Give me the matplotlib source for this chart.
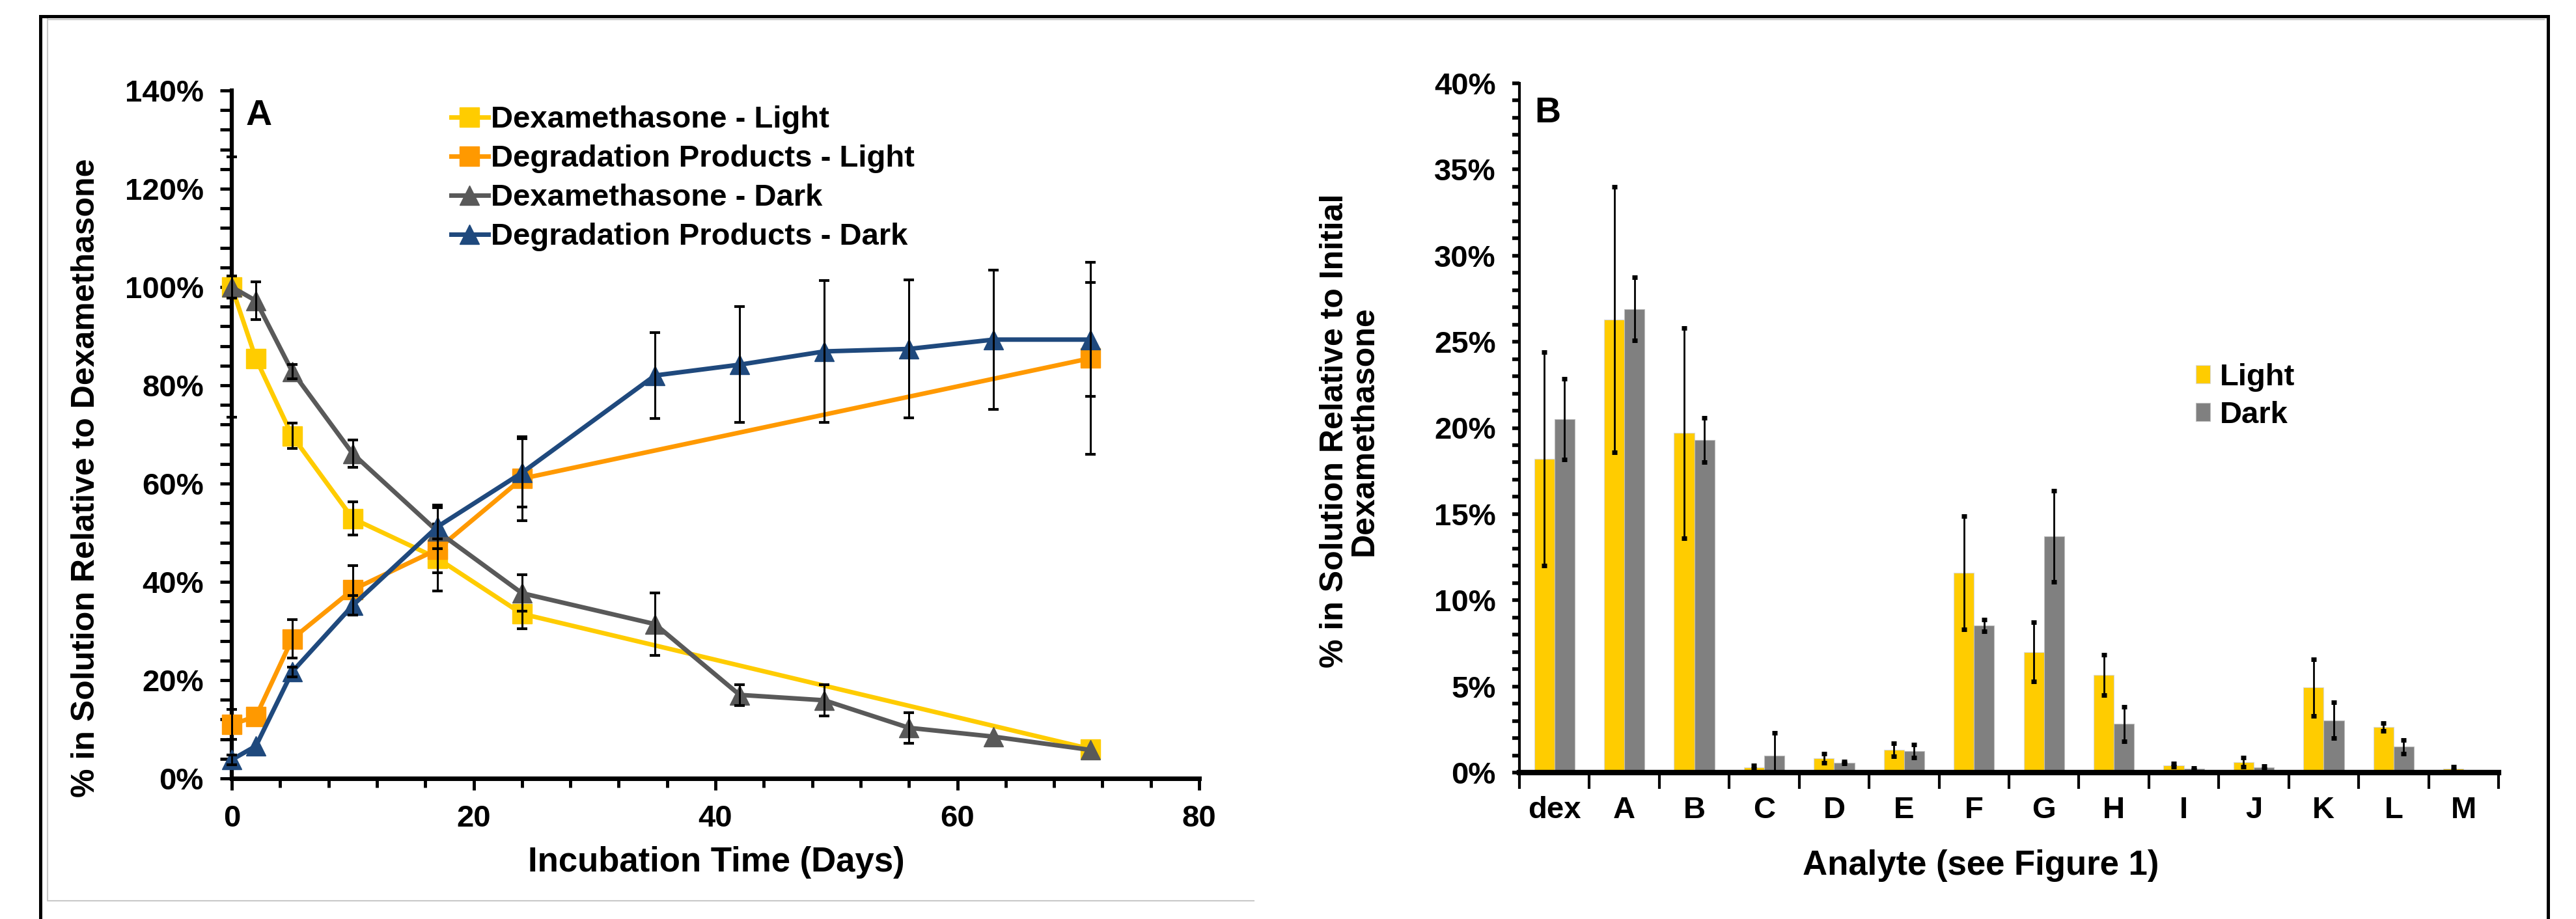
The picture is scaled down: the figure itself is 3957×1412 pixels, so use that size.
import matplotlib
matplotlib.use("Agg")
import matplotlib.pyplot as plt
from matplotlib.ticker import MultipleLocator, FixedLocator, NullFormatter, FuncFormatter
from matplotlib.lines import Line2D
from matplotlib.patches import Rectangle
import numpy as np

plt.rcParams['font.family'] = ['Liberation Sans', 'DejaVu Sans']
plt.rcParams['font.weight'] = 'bold'

# --- panel A: time course (% of initial dexamethasone) ---
days_light = [0, 2, 5, 10, 17, 24, 71]
dex_light = [100.0, 85.4, 69.7, 52.9, 44.8, 33.5, 6.0]
dex_light_err = [26.5, 0.0, 2.6, 3.4, 3.0, 3.0, 0.0]
deg_light = [11.0, 12.6, 28.4, 38.4, 46.6, 61.0, 85.5]
deg_light_err = [3.0, 0.0, 3.9, 4.9, 8.5, 8.5, 19.5]

days_dark = [0, 2, 5, 10, 17, 24, 35, 42, 49, 56, 63, 71]
dex_dark = [100.0, 97.2, 82.8, 66.1, 50.3, 37.7, 31.4, 17.0, 15.9, 10.3, 8.5, 5.8]
dex_dark_err = [2.3, 3.8, 1.5, 2.8, 1.5, 3.7, 6.4, 2.1, 3.2, 3.1, 0.0, 0.0]
deg_dark = [3.8, 6.6, 21.7, 35.2, 51.2, 62.2, 82.0, 84.2, 86.9, 87.4, 89.3, 89.3]
deg_dark_err = [1.0, 0.0, 1.0, 2.0, 4.4, 7.0, 8.7, 11.8, 14.4, 14.0, 14.2, 11.6]

# --- panel B: analytes ---
analytes = ['dex', 'A', 'B', 'C', 'D', 'E', 'F', 'G', 'H', 'I', 'J', 'K', 'L', 'M']
light_vals = [18.2, 26.3, 19.7, 0.30, 0.83, 1.31, 11.6, 7.0, 5.66, 0.43, 0.60, 4.93, 2.63, 0.23]
light_errs = [6.2, 7.7, 6.1, 0.10, 0.26, 0.38, 3.3, 1.72, 1.18, 0.10, 0.26, 1.63, 0.23, 0.10]
dark_vals = [20.5, 26.9, 19.3, 1.0, 0.58, 1.25, 8.53, 13.72, 2.82, 0.21, 0.29, 3.04, 1.50, 0.0]
dark_errs = [2.35, 1.83, 1.28, 1.3, 0.05, 0.39, 0.35, 2.65, 1.0, 0.05, 0.10, 1.05, 0.40, 0.0]

W, H = 3957, 1412
fig = plt.figure(figsize=(W / 100, H / 100), dpi=100)


def fx(px):
    return px / W


def fy(py):
    return 1 - py / H


pct = FuncFormatter(lambda v, p: f"{v:.0f}%")

# ---------------- panel A ----------------
ax_a = fig.add_axes([fx(356), fy(1196), fx(1842) - fx(356), fy(139) - fy(1196)])

series = [
    (days_light, dex_light, dex_light_err, '#FFCC00', 's', 21, 'Dexamethasone - Light'),
    (days_light, deg_light, deg_light_err, '#FF9900', 's', 21, 'Degradation Products - Light'),
    (days_dark, dex_dark, dex_dark_err, '#595959', '^', 22, 'Dexamethasone - Dark'),
    (days_dark, deg_dark, deg_dark_err, '#1F497D', '^', 22, 'Degradation Products - Dark'),
]
z = 3
for x, y, e, c, m, ms, lab in series:
    ax_a.plot(x, y, color=c, lw=5, marker=m, ms=ms, mec=c, label=lab, zorder=z, clip_on=False)
    xe = [xi for xi, ei in zip(x, e) if ei > 0]
    ye = [yi for yi, ei in zip(y, e) if ei > 0]
    ee = [ei for ei in e if ei > 0]
    ax_a.errorbar(xe, ye, yerr=ee, fmt='none', ecolor='black', elinewidth=2.2,
                  capsize=6, capthick=3, zorder=z + 0.5, clip_on=False)
    z += 1

ax_a.set_xlim(0, 80)
ax_a.set_ylim(0, 140)
for s in ['top', 'right']:
    ax_a.spines[s].set_visible(False)
ax_a.spines['left'].set_linewidth(4.5)
ax_a.spines['bottom'].set_linewidth(5)
ax_a.xaxis.set_major_locator(MultipleLocator(20))
ax_a.xaxis.set_minor_locator(MultipleLocator(4))
ax_a.yaxis.set_major_locator(MultipleLocator(20))
ax_a.yaxis.set_minor_locator(MultipleLocator(4))
ax_a.yaxis.set_major_formatter(pct)
ax_a.tick_params(axis='both', which='both', direction='out', width=3.5, labelsize=34)
ax_a.tick_params(axis='y', which='both', length=13, pad=18)
ax_a.tick_params(axis='x', which='major', length=13, pad=16)
ax_a.tick_params(axis='x', which='minor', length=10)

ax_a.text(0.028, 0.963, 'A', transform=ax_a.transAxes, fontsize=40,
          fontweight='bold', ha='center', va='center')

ax_a.legend(loc='upper left', bbox_to_anchor=(0.2268, 0.978), frameon=False,
            fontsize=34, handlelength=1.2, handletextpad=0.1, labelspacing=0.34,
            borderpad=0, borderaxespad=0)

fig.text(fx(132), fy(734), '% in Solution Relative to Dexamethasone', rotation=90,
         ha='center', va='center', fontsize=36, fontweight='bold')
fig.text(fx(1100), fy(1325), 'Incubation Time (Days)', ha='center', va='center',
         fontsize=38, fontweight='bold')

# ---------------- panel B ----------------
ax_b = fig.add_axes([fx(2334), fy(1187), fx(3838) - fx(2334), fy(128) - fy(1187)])
xpos = np.arange(len(analytes))
bw = 0.29
ax_b.bar(xpos - bw / 2, light_vals, bw, color='#FFCC00', edgecolor='#D9D9D9',
         linewidth=0.8, label='Light', zorder=2)
ax_b.bar(xpos + bw / 2, dark_vals, bw, color='#808080', edgecolor='#BFBFBF',
         linewidth=0.8, label='Dark', zorder=2)
for off, vals, errs in [(-bw / 2, light_vals, light_errs), (bw / 2, dark_vals, dark_errs)]:
    xe = [xi + off for xi, ei in zip(xpos, errs) if ei > 0]
    ye = [v for v, ei in zip(vals, errs) if ei > 0]
    ee = [ei for ei in errs if ei > 0]
    ax_b.errorbar(xe, ye, yerr=ee, fmt='none', ecolor='black', elinewidth=2,
                  capsize=3, capthick=5, zorder=3)

ax_b.set_xlim(-0.5, len(analytes) - 0.5)
ax_b.set_ylim(0, 40)
for s in ['top', 'right']:
    ax_b.spines[s].set_visible(False)
ax_b.spines['left'].set_linewidth(3)
ax_b.spines['bottom'].set_linewidth(6)
ax_b.spines['bottom'].set_zorder(4)
ax_b.xaxis.set_major_locator(FixedLocator(np.arange(-0.5, len(analytes), 1)))
ax_b.xaxis.set_major_formatter(NullFormatter())
ax_b.set_xticks(xpos, minor=True)
ax_b.set_xticklabels(analytes, minor=True)
ax_b.tick_params(axis='x', which='major', direction='out', length=18, width=3)
ax_b.tick_params(axis='x', which='minor', length=0, pad=26, labelsize=34)
ax_b.yaxis.set_major_locator(MultipleLocator(5))
ax_b.yaxis.set_minor_locator(MultipleLocator(1))
ax_b.yaxis.set_major_formatter(pct)
ax_b.tick_params(axis='y', which='both', direction='out', length=8, width=4,
                 pad=18, labelsize=34)

ax_b.text(0.0286, 0.957, 'B', transform=ax_b.transAxes, fontsize=40,
          fontweight='bold', ha='center', va='center')
ax_b.legend(loc='upper left', bbox_to_anchor=(0.691, 0.594), frameon=False,
            fontsize=34, handlelength=0.47, handleheight=0.53, handletextpad=0.3,
            labelspacing=0.3, borderpad=0, borderaxespad=0)

fig.text(fx(2073), fy(662), '% in Solution Relative to Initial\nDexamethasone', rotation=90,
         ha='center', va='center', fontsize=36, fontweight='bold', multialignment='center',
         linespacing=1.0)
fig.text(fx(3043), fy(1330), 'Analyte (see Figure 1)', ha='center', va='center',
         fontsize=38, fontweight='bold')

# ---------------- page frame ----------------
fig.add_artist(Line2D([fx(73), fx(73), fx(1926)], [fy(29), fy(1384), fy(1384)],
                      color='#C8C8C8', lw=1.5))
fig.add_artist(Line2D([fx(73), fx(3908)], [fy(30), fy(30)], color='#C8C8C8', lw=1.5))
fig.add_artist(Rectangle((fx(62), fy(1500)), fx(3914) - fx(62), fy(25) - fy(1500),
                         transform=fig.transFigure, fill=False, edgecolor='black',
                         lw=3.6, clip_on=False))

fig.savefig('out.png', dpi=100)
